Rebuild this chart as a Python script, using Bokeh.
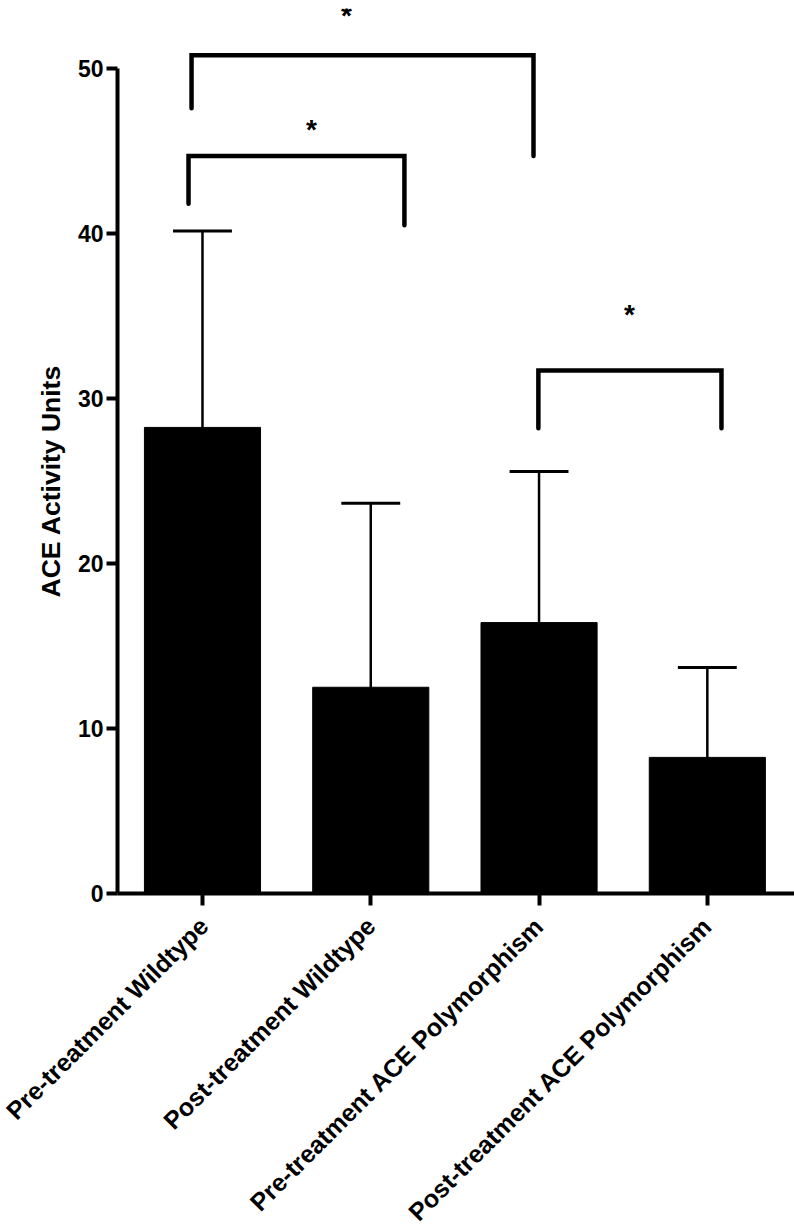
import math
from bokeh.plotting import figure
from bokeh.models import FixedTicker, ColumnDataSource, Title
from bokeh.core.properties import value
from bokeh.embed import file_html
from bokeh.resources import INLINE

# ---- data ----
categories = ["Pre-treatment Wildtype", "Post-treatment Wildtype",
              "Pre-treatment ACE Polymorphism", "Post-treatment ACE Polymorphism"]
means = [28.25, 12.5, 16.42, 8.25]
errors = [11.9, 11.15, 9.16, 5.45]
y_ticks = [0, 10, 20, 30, 40, 50]
y_title = "ACE Activity Units"

# significance brackets (in data units: x = category index, y = activity units)
br_left = [-0.065, -0.083, 1.996]
br_right = [1.967, 1.20, 3.084]
br_top = [50.8, 44.7, 31.7]
br_left_end = [47.6, 41.8, 28.2]
br_right_end = [44.7, 40.5, 28.2]
star_x = [0.856, 0.648, 2.537]
star_y = [53.4, 46.5, 35.3]
star_text = ["*", "*", "*"]

FONT = "Liberation Sans"

idx = list(range(len(categories)))
uppers = [m + e for m, e in zip(means, errors)]
src = ColumnDataSource(dict(x=idx, top=means, up=uppers,
                            cl=[i - 0.175 for i in idx], cr=[i + 0.175 for i in idx]))

p = figure(frame_width=677, frame_height=885, output_backend="svg", toolbar_location=None,
           x_range=(-0.505, 3.518), y_range=(0, 53.64),
           min_border_left=117, min_border_right=0, min_border_top=8,
           min_border_bottom=300)
p.outline_line_color = None
p.xgrid.visible = False
p.ygrid.visible = False
p.background_fill_color = "white"
p.border_fill_color = "white"

p.vbar(x="x", top="top", bottom=0, width=0.69, source=src,
       fill_color="black", line_color="black")
p.segment(x0="x", y0="top", x1="x", y1="up", source=src,
          line_color="black", line_width=2.5)
p.segment(x0="cl", y0="up", x1="cr", y1="up", source=src,
          line_color="black", line_width=3)

bx = [[l, l, r, r] for l, r in zip(br_left, br_right)]
by = [[le, t, t, re] for le, t, re in zip(br_left_end, br_top, br_right_end)]
p.multi_line(xs=bx, ys=by, line_color="black", line_width=4.5,
             line_cap="round", line_join="miter")
p.text(x=star_x, y=star_y, text=star_text, text_font=value(FONT),
       text_font_style="bold", text_font_size="28px", text_align="center",
       text_baseline="alphabetic", y_offset=3, text_color="black")

# y axis
ya = p.yaxis[0]
ya.ticker = FixedTicker(ticks=y_ticks)
ya.bounds = (0, 50)
ya.axis_line_width = 4
ya.major_tick_line_width = 4
ya.major_tick_out = 11
ya.major_tick_in = 0
ya.minor_tick_out = 0
ya.minor_tick_in = 0
ya.major_label_standoff = 3
ya.major_label_text_font = FONT
ya.major_label_text_font_style = "bold"
ya.major_label_text_font_size = "23px"
ya.major_label_text_color = "black"

# y axis title, placed along the 0-50 span of the axis line
p.add_layout(Title(text=y_title, align="left", offset=296, standoff=17,
                   text_font=FONT, text_font_style="bold", text_font_size="26.5px",
                   text_color="black"), "left")

# x axis
xa = p.xaxis[0]
xa.ticker = FixedTicker(ticks=idx)
xa.major_label_overrides = {i: c for i, c in zip(idx, categories)}
xa.major_label_orientation = math.pi / 4
xa.axis_line_width = 4
xa.major_tick_line_width = 4
xa.major_tick_out = 12
xa.major_tick_in = 0
xa.minor_tick_out = 0
xa.minor_tick_in = 0
xa.major_label_standoff = 16
xa.major_label_text_font = FONT
xa.major_label_text_font_style = "bold"
xa.major_label_text_font_size = "25px"
xa.major_label_text_color = "black"

open("out.html", "w").write(file_html(p, INLINE))
